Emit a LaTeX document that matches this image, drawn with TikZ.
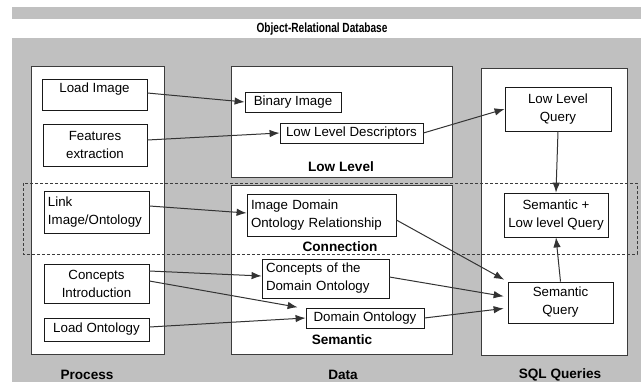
\documentclass[tikz,border=0pt]{standalone}
\usepackage{fontspec}
\setmainfont{Liberation Sans}
\newfontfamily\titlefont{Liberation Sans Bold}[FakeStretch=0.76]
\usetikzlibrary{arrows.meta}
\definecolor{bggray}{RGB}{192,192,192}
\definecolor{edgegray}{RGB}{60,60,60}
\tikzset{
  box/.style={draw=black!90, fill=white, line width=0.8pt, inner xsep=3pt, inner ysep=2pt,
    font=\fontsize{13.3}{18}\selectfont, align=center},
  leftbox/.style={box, align=left, inner xsep=4pt},
  colbox/.style={draw=edgegray, fill=white, line width=0.9pt},
  heading/.style={font=\fontsize{13.6}{16}\selectfont\bfseries},
  arr/.style={draw=black!80, line width=1pt, -{Latex[length=10pt,width=7.5pt]}}
}
\begin{document}
\begin{tikzpicture}[x=1pt, y=-1pt]
\useasboundingbox (0,0) rectangle (641,386);
\fill[white] (0,0) rectangle (641,386);
\fill[bggray] (12,7) rectangle (641,19);
\fill[bggray] (12,38) rectangle (641,382);
\node[font=\fontsize{13.3}{16}\selectfont\titlefont] (title) at (322,29) {Object-Relational Database};
% column frames
\coordinate (P1) at (31 ,66) ;
\coordinate (P2) at (164,354);
\coordinate (L1) at (231,66) ;
\coordinate (L2) at (452,177);
\coordinate (S1) at (231,185);
\coordinate (S2) at (452,354);
\coordinate (Q1) at (481,68) ;
\coordinate (Q2) at (627,355);
\draw[colbox] (P1) rectangle (P2);
\draw[colbox] (L1) rectangle (L2);
\draw[colbox] (S1) rectangle (S2);
\draw[colbox] (Q1) rectangle (Q2);
\coordinate (C1) at (23 ,183);
\coordinate (C2) at (637,254);
\draw[edgegray, line width=0.9pt, dash pattern=on 3pt off 2pt] (C1) rectangle (C2);
% process
\node[box, minimum width=105pt, minimum height=31pt, text height=10pt, text depth=15pt, inner ysep=3pt] (loadimg) at (94.5,94.5) {Load Image};
\node[box, minimum width=104pt, minimum height=42pt] (featext) at (95,145) {Features\\extraction};
\node[leftbox, text width=97pt, minimum height=42pt] (linkimg) at (96.5,212) {Link\\Image/Ontology};
\node[box, minimum width=105pt, minimum height=39pt] (conintro) at (96.5,283.5) {Concepts\\Introduction};
\node[box, minimum width=105pt, minimum height=23pt] (loadonto) at (96.5,329.5) {Load Ontology};
% data
\node[box, minimum width=96pt, minimum height=20pt] (binimg) at (293,102) {Binary Image};
\node[box, minimum width=143pt, minimum height=20pt] (lldesc) at (351.5,133) {Low Level Descriptors};
\node[leftbox, text width=141pt, minimum height=42pt] (imgrel) at (321.5,215) {Image Domain\\Ontology Relationship};
\node[leftbox, text width=119pt, minimum height=39pt] (conceptdom) at (325.5,278.5) {Concepts of the\\Domain Ontology};
\node[box, minimum width=118pt, minimum height=20pt] (domonto) at (365,318) {Domain Ontology};
% queries
\node[box, minimum width=106pt, minimum height=44pt] (llquery) at (558,109) {Low Level\\Query};
\node[box, minimum width=104pt, minimum height=44pt] (semll) at (556,215) {Semantic +\\Low level Query};
\node[box, minimum width=105pt, minimum height=41pt] (semquery) at (560.5,302.5) {Semantic\\Query};
% headings
\node[heading] (lowlbl) at (341,167) {Low Level};
\node[heading] (conlbl) at (340,247) {Connection};
\node[heading] (semlbl) at (342,340) {Semantic};
\node[heading] (proclbl) at (87,375) {Process};
\node[heading] (datalbl) at (343,375) {Data};
\node[heading] (sqllbl) at (560,375) {SQL Queries};
% arrows
\draw[arr] ([yshift=1.5pt]loadimg.east) -- (binimg.west);
\draw[arr] ([yshift=5pt]featext.east) -- (lldesc.west);
\draw[arr] (lldesc.east) -- (llquery.west);
\draw[arr] (llquery.south) -- (semll.north);
\draw[arr] (semquery.north) -- (semll.south);
\draw[arr] ([yshift=6pt]linkimg.east) -- ([yshift=2pt]imgrel.west);
\draw[arr, shorten >=4pt] ([yshift=-5pt]imgrel.east) -- (semquery.north west);
\draw[arr] ([yshift=12.5pt]conintro.east) -- ([yshift=2.5pt]conceptdom.west);
\draw[arr, shorten >=2pt] ([yshift=2.5pt]conintro.east) -- ([xshift=-6pt]domonto.north west);
\draw[arr] ([yshift=2.5pt]loadonto.east) -- (domonto.west);
\draw[arr, shorten >=4pt] ([yshift=1.5pt]conceptdom.east) -- ([yshift=5.5pt]semquery.west);
\draw[arr, shorten >=4pt] (domonto.east) -- ([yshift=-5.5pt]semquery.west);
\end{tikzpicture}
\end{document}
